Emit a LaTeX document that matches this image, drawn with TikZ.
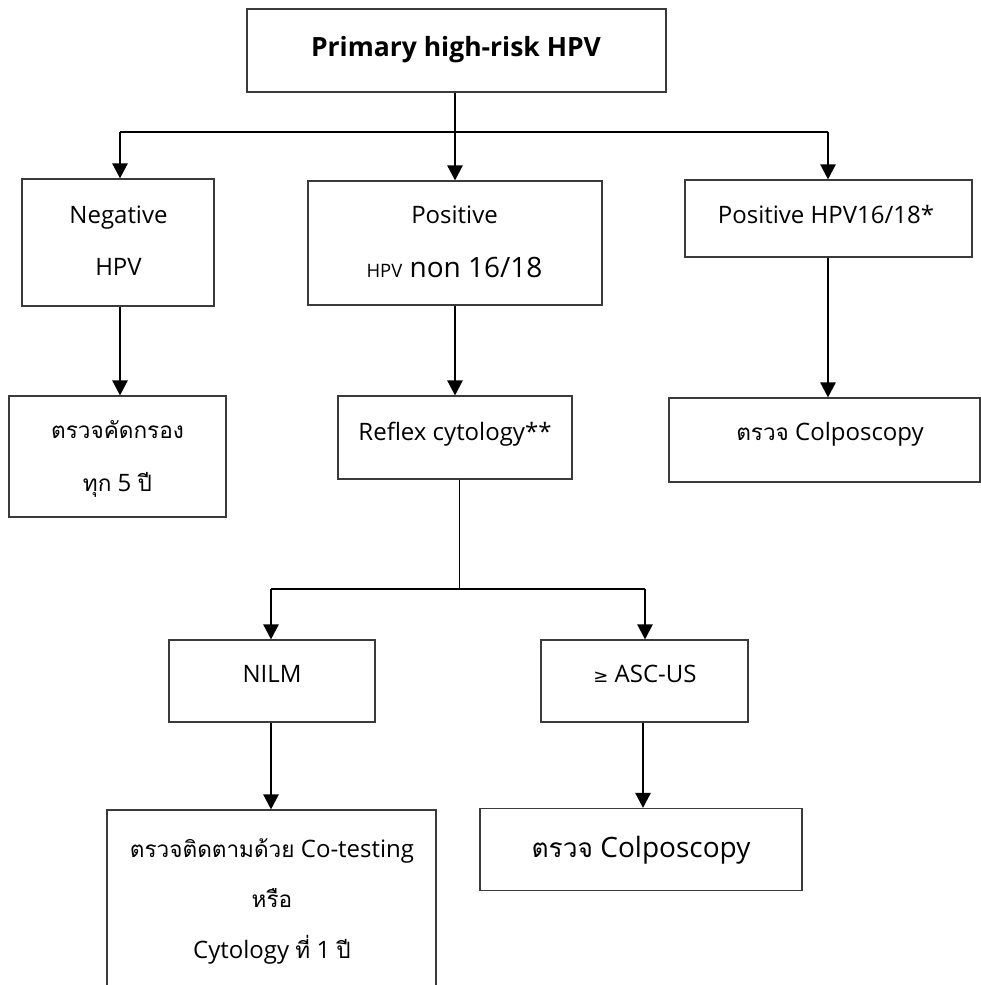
\documentclass[tikz,border=0pt]{standalone}
\usepackage{fontspec}
\setmainfont{Open Sans}
\newfontfamily\thfont[Script=Thai,Scale=0.94]{Loma}
\newfontfamily\symfont{DejaVu Sans}
\usetikzlibrary{arrows.meta}
\newcommand\thtext[1]{{\thfont #1}}
\definecolor{boxgray}{HTML}{3A3A3A}

\begin{document}
\begin{tikzpicture}[x=1pt,y=-1pt,
  box/.style={draw=boxgray,line width=1.1pt,rectangle,inner sep=0pt,fill=white},
  line/.style={inner sep=0pt,anchor=base,font=\fontsize{24}{29}\selectfont},
  title/.style={line,font=\bfseries\fontsize{26.5}{31}\selectfont},
  big/.style={line,font=\fontsize{28}{33}\selectfont},
  flow/.style={line width=2.4pt,-{Triangle[width=15pt,length=15pt]}},
  rail/.style={line width=1.2pt}]
\useasboundingbox (0,0) rectangle (981,985);
\fill[white] (0,0) rectangle (981,985);
\clip (0,0) rectangle (981,985);

% boxes
\node[box,minimum width=419pt,minimum height=83pt] (top) at (456.5,50.5) {};
\node[box,minimum width=192pt,minimum height=127pt] (neg) at (118,242.5) {};
\node[box,minimum width=294pt,minimum height=124pt] (pos) at (455,243) {};
\node[box,minimum width=287pt,minimum height=77pt] (p16) at (828.5,218.5) {};
\node[box,minimum width=217pt,minimum height=121pt] (scr) at (117.5,456.5) {};
\node[box,minimum width=234pt,minimum height=83pt] (refl) at (455,437.5) {};
\node[box,minimum width=311pt,minimum height=84pt] (colA) at (824.5,440) {};
\node[box,minimum width=206pt,minimum height=82pt] (nilm) at (272,681) {};
\node[box,minimum width=207pt,minimum height=82pt] (asc) at (644.5,681) {};
\node[box,minimum width=329pt,minimum height=190pt] (fol) at (271.5,905) {};
\node[box,minimum width=322pt,minimum height=82pt] (colB) at (641,849.5) {};

% texts
\node[title] (topT) at (456,56) {Primary high-risk HPV};
\node[line] (negT1) at (118.5,223) {Negative};
\node[line] (negT2) at (118.5,275) {HPV};
\node[line] (posT1) at (454.5,223) {Positive};
\node[big] (posT2) at (454.5,277) {{\fontsize{18.5}{22}\selectfont HPV} non 16/18};
\node[line] (p16T) at (826,223) {Positive HPV16/18*};
\node[line] (scrT1) at (117.5,438) {\thtext{ตรวจคัดกรอง}};
\node[line] (scrT2) at (117.5,491) {\thtext{ทุก} 5 \thtext{ปี}};
\node[line] (reflT) at (455,440) {Reflex cytology**};
\node[line] (colAT) at (830,440) {\thtext{ตรวจ} Colposcopy};
\node[line] (nilmT) at (272,682) {NILM};
\node[line] (ascT) at (645,682) {{\symfont\fontsize{18}{20}\selectfont ≥} ASC-US};
\node[line] (folT1) at (272,857) {\thtext{ตรวจติดตามด้วย} Co-testing};
\node[line] (folT2) at (272,907) {\thtext{หรือ}};
\node[line] (folT3) at (272,958) {Cytology \thtext{ที่} 1 \thtext{ปี}};
\node[big] (colBT) at (641,857) {\thtext{ตรวจ} Colposcopy};

% first split
\coordinate (railL) at (120,132);
\coordinate (railM) at (455,132);
\coordinate (railR) at (828,132);
\draw[rail] (railL) -- (railR);
\draw[flow] (top.south -| railM) -- (pos.north);
\draw[flow] (railL) -- (railL |- neg.north);
\draw[flow] (railR) -- (railR |- p16.north);

% straight branches
\draw[flow] (neg.south -| railL) -- (railL |- scr.north);
\draw[flow] (pos.south) -- (refl.north);
\draw[flow] (p16.south -| railR) -- (railR |- colA.north);

% cytology split
\coordinate (stem) at (459,589);
\coordinate (cytL) at (271,589);
\coordinate (cytR) at (645,589);
\coordinate (ascX) at (643,0);
\draw[line width=1pt] (refl.south -| stem) -- (stem);
\draw[rail] (cytL) -- (cytR);
\draw[flow] (cytL) -- (cytL |- nilm.north);
\draw[flow] (cytR) -- (cytR |- asc.north);
\draw[flow] (nilm.south -| cytL) -- (cytL |- fol.north);
\draw[flow] (asc.south -| ascX) -- (ascX |- colB.north);
\end{tikzpicture}
\end{document}
